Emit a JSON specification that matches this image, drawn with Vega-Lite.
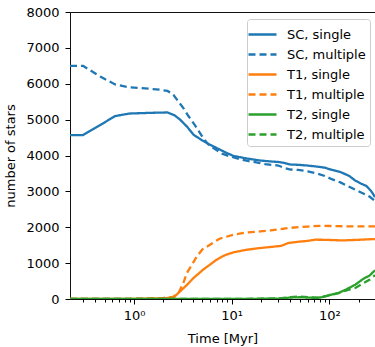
{
  "$schema": "https://vega.github.io/schema/vega-lite/v6.json",
  "width": 305,
  "height": 287,
  "autosize": {"type": "none"},
  "padding": {"left": 70, "top": 12, "right": 0, "bottom": 48},
  "background": "white",
  "config": {
    "view": {"stroke": "#111", "strokeWidth": 1},
    "font": "DejaVu Sans",
    "axis": {"labelFont": "DejaVu Sans", "titleFont": "DejaVu Sans", "labelFontSize": 13, "titleFontSize": 13, "titleFontWeight": "normal", "labelColor": "#000", "titleColor": "#000", "tickColor": "#000", "grid": false, "domain": false},
    "legend": {
      "symbolType": "M-1.4,0H1.4", "symbolSize": 400, "symbolStrokeWidth": 2.3,
      "labelFontSize": 13, "labelFont": "DejaVu Sans", "labelColor": "#000",
      "labelOffset": 13, "rowPadding": 1, "padding": 4,
      "strokeColor": "#cccccc", "fillColor": "rgba(255,255,255,0.8)", "cornerRadius": 3
    }
  },
  "data": {"values": [
    {"s": "SC, single", "t": 0.2205, "n": 4570},
    {"s": "SC, single", "t": 0.3, "n": 4570},
    {"s": "SC, single", "t": 0.45, "n": 4850},
    {"s": "SC, single", "t": 0.64, "n": 5100},
    {"s": "SC, single", "t": 0.9, "n": 5170},
    {"s": "SC, single", "t": 1.5, "n": 5190},
    {"s": "SC, single", "t": 2.2, "n": 5200},
    {"s": "SC, single", "t": 2.6, "n": 5120},
    {"s": "SC, single", "t": 2.96, "n": 5000},
    {"s": "SC, single", "t": 3.5, "n": 4800},
    {"s": "SC, single", "t": 4.06, "n": 4580},
    {"s": "SC, single", "t": 5.0, "n": 4420},
    {"s": "SC, single", "t": 6.0, "n": 4300},
    {"s": "SC, single", "t": 7.5, "n": 4170},
    {"s": "SC, single", "t": 8.9, "n": 4070},
    {"s": "SC, single", "t": 10.4, "n": 3990},
    {"s": "SC, single", "t": 14, "n": 3920},
    {"s": "SC, single", "t": 19.6, "n": 3860},
    {"s": "SC, single", "t": 24.8, "n": 3835},
    {"s": "SC, single", "t": 30, "n": 3820},
    {"s": "SC, single", "t": 35, "n": 3790},
    {"s": "SC, single", "t": 40, "n": 3750},
    {"s": "SC, single", "t": 48, "n": 3740},
    {"s": "SC, single", "t": 60, "n": 3720},
    {"s": "SC, single", "t": 75, "n": 3690},
    {"s": "SC, single", "t": 90, "n": 3660},
    {"s": "SC, single", "t": 106, "n": 3600},
    {"s": "SC, single", "t": 130, "n": 3540},
    {"s": "SC, single", "t": 160, "n": 3430},
    {"s": "SC, single", "t": 185, "n": 3300},
    {"s": "SC, single", "t": 210, "n": 3220},
    {"s": "SC, single", "t": 240, "n": 3150},
    {"s": "SC, single", "t": 270, "n": 3000},
    {"s": "SC, single", "t": 294, "n": 2840},
    {"s": "SC, multiple", "t": 0.2205, "n": 6500},
    {"s": "SC, multiple", "t": 0.3, "n": 6500},
    {"s": "SC, multiple", "t": 0.45, "n": 6200},
    {"s": "SC, multiple", "t": 0.64, "n": 5980},
    {"s": "SC, multiple", "t": 0.9, "n": 5900},
    {"s": "SC, multiple", "t": 1.3, "n": 5870},
    {"s": "SC, multiple", "t": 1.85, "n": 5833},
    {"s": "SC, multiple", "t": 2.2, "n": 5800},
    {"s": "SC, multiple", "t": 2.53, "n": 5694},
    {"s": "SC, multiple", "t": 2.85, "n": 5500},
    {"s": "SC, multiple", "t": 3.2, "n": 5323},
    {"s": "SC, multiple", "t": 3.6, "n": 5100},
    {"s": "SC, multiple", "t": 4.06, "n": 4905},
    {"s": "SC, multiple", "t": 4.6, "n": 4680},
    {"s": "SC, multiple", "t": 5.1, "n": 4487},
    {"s": "SC, multiple", "t": 5.8, "n": 4300},
    {"s": "SC, multiple", "t": 6.5, "n": 4208},
    {"s": "SC, multiple", "t": 8.0, "n": 4050},
    {"s": "SC, multiple", "t": 9.6, "n": 3975},
    {"s": "SC, multiple", "t": 12, "n": 3900},
    {"s": "SC, multiple", "t": 15, "n": 3840},
    {"s": "SC, multiple", "t": 19.6, "n": 3790},
    {"s": "SC, multiple", "t": 22, "n": 3760},
    {"s": "SC, multiple", "t": 30, "n": 3720},
    {"s": "SC, multiple", "t": 35, "n": 3650},
    {"s": "SC, multiple", "t": 40, "n": 3610},
    {"s": "SC, multiple", "t": 48, "n": 3600},
    {"s": "SC, multiple", "t": 60, "n": 3560},
    {"s": "SC, multiple", "t": 75, "n": 3500},
    {"s": "SC, multiple", "t": 90, "n": 3430},
    {"s": "SC, multiple", "t": 106, "n": 3340},
    {"s": "SC, multiple", "t": 130, "n": 3250},
    {"s": "SC, multiple", "t": 160, "n": 3130},
    {"s": "SC, multiple", "t": 185, "n": 3046},
    {"s": "SC, multiple", "t": 220, "n": 2950},
    {"s": "SC, multiple", "t": 260, "n": 2850},
    {"s": "SC, multiple", "t": 294, "n": 2730},
    {"s": "T1, single", "t": 0.2205, "n": 0},
    {"s": "T1, single", "t": 1.0, "n": 5},
    {"s": "T1, single", "t": 2.0, "n": 20},
    {"s": "T1, single", "t": 2.53, "n": 40},
    {"s": "T1, single", "t": 2.96, "n": 212},
    {"s": "T1, single", "t": 3.5, "n": 400},
    {"s": "T1, single", "t": 4.06, "n": 585},
    {"s": "T1, single", "t": 5.1, "n": 817},
    {"s": "T1, single", "t": 6.0, "n": 960},
    {"s": "T1, single", "t": 7.0, "n": 1095},
    {"s": "T1, single", "t": 8.5, "n": 1220},
    {"s": "T1, single", "t": 10.4, "n": 1300},
    {"s": "T1, single", "t": 14, "n": 1370},
    {"s": "T1, single", "t": 19.6, "n": 1421},
    {"s": "T1, single", "t": 25, "n": 1450},
    {"s": "T1, single", "t": 32, "n": 1480},
    {"s": "T1, single", "t": 38, "n": 1561},
    {"s": "T1, single", "t": 50, "n": 1600},
    {"s": "T1, single", "t": 60, "n": 1620},
    {"s": "T1, single", "t": 71.6, "n": 1653},
    {"s": "T1, single", "t": 90, "n": 1650},
    {"s": "T1, single", "t": 135, "n": 1633},
    {"s": "T1, single", "t": 200, "n": 1650},
    {"s": "T1, single", "t": 294, "n": 1672},
    {"s": "T1, multiple", "t": 0.2205, "n": 0},
    {"s": "T1, multiple", "t": 1.0, "n": 5},
    {"s": "T1, multiple", "t": 2.0, "n": 30},
    {"s": "T1, multiple", "t": 2.5, "n": 60},
    {"s": "T1, multiple", "t": 2.85, "n": 167},
    {"s": "T1, multiple", "t": 3.2, "n": 450},
    {"s": "T1, multiple", "t": 3.47, "n": 725},
    {"s": "T1, multiple", "t": 4.0, "n": 1000},
    {"s": "T1, multiple", "t": 4.4, "n": 1187},
    {"s": "T1, multiple", "t": 5.0, "n": 1380},
    {"s": "T1, multiple", "t": 6.0, "n": 1513},
    {"s": "T1, multiple", "t": 7.5, "n": 1680},
    {"s": "T1, multiple", "t": 10.4, "n": 1792},
    {"s": "T1, multiple", "t": 14, "n": 1850},
    {"s": "T1, multiple", "t": 19.6, "n": 1884},
    {"s": "T1, multiple", "t": 25, "n": 1910},
    {"s": "T1, multiple", "t": 38, "n": 1979},
    {"s": "T1, multiple", "t": 60, "n": 2020},
    {"s": "T1, multiple", "t": 84, "n": 2043},
    {"s": "T1, multiple", "t": 120, "n": 2030},
    {"s": "T1, multiple", "t": 185, "n": 2024},
    {"s": "T1, multiple", "t": 294, "n": 2024},
    {"s": "T2, single", "t": 0.2205, "n": 0},
    {"s": "T2, single", "t": 10, "n": 0},
    {"s": "T2, single", "t": 30, "n": 10},
    {"s": "T2, single", "t": 40, "n": 40},
    {"s": "T2, single", "t": 50, "n": 50},
    {"s": "T2, single", "t": 60, "n": 40},
    {"s": "T2, single", "t": 75, "n": 30},
    {"s": "T2, single", "t": 84, "n": 50},
    {"s": "T2, single", "t": 100, "n": 110},
    {"s": "T2, single", "t": 124, "n": 167},
    {"s": "T2, single", "t": 150, "n": 270},
    {"s": "T2, single", "t": 185, "n": 400},
    {"s": "T2, single", "t": 220, "n": 550},
    {"s": "T2, single", "t": 260, "n": 660},
    {"s": "T2, single", "t": 294, "n": 800},
    {"s": "T2, multiple", "t": 0.2205, "n": 0},
    {"s": "T2, multiple", "t": 10, "n": 0},
    {"s": "T2, multiple", "t": 30, "n": 15},
    {"s": "T2, multiple", "t": 40, "n": 50},
    {"s": "T2, multiple", "t": 50, "n": 70},
    {"s": "T2, multiple", "t": 60, "n": 50},
    {"s": "T2, multiple", "t": 80, "n": 40},
    {"s": "T2, multiple", "t": 100, "n": 100},
    {"s": "T2, multiple", "t": 124, "n": 160},
    {"s": "T2, multiple", "t": 150, "n": 240},
    {"s": "T2, multiple", "t": 185, "n": 307},
    {"s": "T2, multiple", "t": 220, "n": 430},
    {"s": "T2, multiple", "t": 260, "n": 540},
    {"s": "T2, multiple", "t": 294, "n": 665}
  ]},
  "mark": {"type": "line", "strokeWidth": 2.3, "clip": true},
  "encoding": {
    "x": {
      "field": "t", "type": "quantitative",
      "scale": {"type": "log", "domain": [0.2205, 294], "nice": false},
      "axis": {
        "title": "Time [Myr]",
        "values": [0.3, 0.4, 0.5, 0.6, 0.7, 0.8, 0.9, 1, 2, 3, 4, 5, 6, 7, 8, 9, 10, 20, 30, 40, 50, 60, 70, 80, 90, 100, 200],
        "labelExpr": "datum.value == 1 ? '10⁰' : datum.value == 10 ? '10¹' : datum.value == 100 ? '10²' : ''",
        "tickSize": {"condition": {"test": "datum.value == 1 || datum.value == 10 || datum.value == 100", "value": 5}, "value": 3},
        "labelPadding": 5,
        "labelOverlap": false,
        "labelFlush": false,
        "titlePadding": 10
      }
    },
    "y": {
      "field": "n", "type": "quantitative",
      "scale": {"domain": [0, 8000], "nice": false},
      "axis": {
        "title": "number of stars",
        "values": [0, 1000, 2000, 3000, 4000, 5000, 6000, 7000, 8000],
        "format": "d",
        "tickSize": 5,
        "labelPadding": 6,
        "titlePadding": 8
      }
    },
    "color": {
      "field": "s", "type": "nominal",
      "scale": {
        "domain": ["SC, single", "SC, multiple", "T1, single", "T1, multiple", "T2, single", "T2, multiple"],
        "range": ["#1f77b4", "#1f77b4", "#ff7f0e", "#ff7f0e", "#2ca02c", "#2ca02c"]
      },
      "legend": {"title": null, "orient": "none", "legendX": 177, "legendY": 7}
    },
    "strokeDash": {
      "field": "s", "type": "nominal",
      "scale": {
        "domain": ["SC, single", "SC, multiple", "T1, single", "T1, multiple", "T2, single", "T2, multiple"],
        "range": [[1, 0], [7, 4], [1, 0], [7, 4], [1, 0], [7, 4]]
      },
      "legend": {"title": null, "orient": "none", "legendX": 177, "legendY": 7}
    }
  }
}
